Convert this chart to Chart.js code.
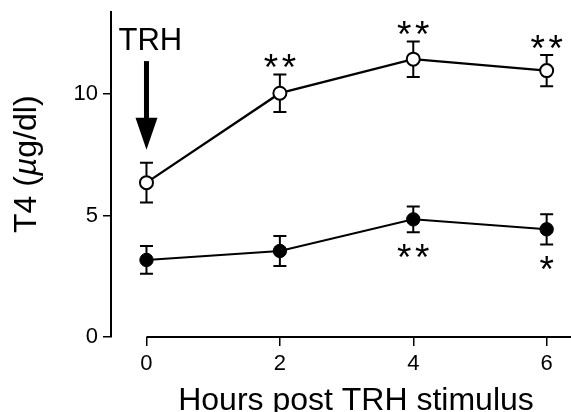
<!DOCTYPE html>
<html>
<head>
<meta charset="utf-8">
<script src="https://cdn.jsdelivr.net/npm/chart.js@4"></script>
<style>
  html, body { margin: 0; padding: 0; background: #fff; }
  #wrap { width: 571px; height: 412px; }
</style>
</head>
<body>
<div id="wrap"><canvas id="chart" width="571" height="412"></canvas></div>
<script>
// values
const hours = [0, 2, 4, 6];
const xTicks = [0, 2, 4, 6];
const yTicks = [0, 5, 10];
const openMean = [6.35, 10.03, 11.43, 10.96];
const openSem = [0.82, 0.77, 0.73, 0.64];
const filledMean = [3.17, 3.54, 4.84, 4.43];
const filledSem = [0.57, 0.62, 0.53, 0.62];
const openSig = ["", "**", "**", "**"];
const filledSig = ["", "", "**", "*"];

const FONT = "'Liberation Sans', Arial, Helvetica, sans-serif";

const toPoints = (means) => hours.map((h, i) => ({ x: h, y: means[i] }));

// error bars, significance stars, TRH arrow and axis titles
const extras = {
  id: "extras",
  beforeDatasetsDraw(chart) {
    const { ctx, scales: { x, y } } = chart;
    ctx.save();
    ctx.strokeStyle = "#000";
    ctx.lineWidth = 2;
    [[openMean, openSem], [filledMean, filledSem]].forEach(([m, s]) => {
      hours.forEach((h, i) => {
        const px = x.getPixelForValue(h);
        const top = y.getPixelForValue(m[i] + s[i]);
        const bot = y.getPixelForValue(m[i] - s[i]);
        ctx.beginPath();
        ctx.moveTo(px, top); ctx.lineTo(px, bot);
        ctx.moveTo(px - 6.5, top); ctx.lineTo(px + 6.5, top);
        ctx.moveTo(px - 6.5, bot); ctx.lineTo(px + 6.5, bot);
        ctx.stroke();
      });
    });
    ctx.restore();
  },
  afterDraw(chart) {
    const { ctx, chartArea, scales: { x, y } } = chart;
    ctx.save();
    ctx.fillStyle = "#000";
    ctx.strokeStyle = "#000";

    // x axis line starts at hour 0
    const y0 = y.getPixelForValue(0);
    ctx.lineWidth = 2;
    ctx.beginPath();
    ctx.moveTo(x.getPixelForValue(0), y0);
    ctx.lineTo(chartArea.right, y0);
    ctx.stroke();

    // stars
    ctx.font = "37px " + FONT;
    ctx.textAlign = "center";
    ctx.textBaseline = "alphabetic";
    const mt = ctx.measureText("*");
    const half = (mt.actualBoundingBoxAscent - mt.actualBoundingBoxDescent) / 2;
    const drawStars = (label, px, cy) => {
      const n = label.length;
      for (let k = 0; k < n; k++) {
        ctx.fillText("*", px + (k - (n - 1) / 2) * 18, cy + half);
      }
    };
    hours.forEach((h, i) => {
      const px = x.getPixelForValue(h);
      if (openSig[i]) drawStars(openSig[i], px, y.getPixelForValue(openMean[i] + openSem[i]) - 13.5);
      if (filledSig[i]) drawStars(filledSig[i], px, y.getPixelForValue(filledMean[i] - filledSem[i]) + 19);
    });

    // TRH arrow
    const ax = x.getPixelForValue(0);
    const tail = y.getPixelForValue(11.35);
    const tip = y.getPixelForValue(7.7);
    ctx.fillRect(ax - 2.5, tail, 5, tip - tail - 30);
    ctx.beginPath();
    ctx.moveTo(ax - 11, tip - 32);
    ctx.lineTo(ax + 11, tip - 32);
    ctx.lineTo(ax, tip);
    ctx.closePath();
    ctx.fill();
    ctx.font = "31px " + FONT;
    ctx.textAlign = "left";
    ctx.fillText("TRH", ax - 28, y.getPixelForValue(11.81));

    // x title
    ctx.font = "32px " + FONT;
    ctx.textAlign = "center";
    ctx.fillText("Hours post TRH stimulus", 356, 410);

    // y title, rotated, with italic mu
    ctx.translate(36, 233);
    ctx.rotate(-Math.PI / 2);
    ctx.textAlign = "left";
    const parts = [["T4 (", "32px " + FONT], ["\u00b5", "italic 32px " + FONT], ["g/dl)", "32px " + FONT]];
    let cx = 0;
    parts.forEach(([t, f]) => {
      ctx.font = f;
      ctx.fillText(t, cx, 0);
      cx += ctx.measureText(t).width;
    });
    ctx.restore();
  }
};

new Chart(document.getElementById("chart"), {
  type: "line",
  data: {
    datasets: [
      {
        label: "open",
        data: toPoints(openMean),
        borderColor: "#000",
        borderWidth: 2.3,
        pointRadius: 6.5,
        pointBorderWidth: 2,
        pointBackgroundColor: "#fff",
        pointBorderColor: "#000",
        tension: 0,
      },
      {
        label: "filled",
        data: toPoints(filledMean),
        borderColor: "#000",
        borderWidth: 2,
        pointRadius: 6.7,
        pointBorderWidth: 1,
        pointBackgroundColor: "#000",
        pointBorderColor: "#000",
        tension: 0,
      },
    ],
  },
  options: {
    responsive: false,
    animation: false,
    layout: { autoPadding: false, padding: { top: 12, left: 0, right: 0, bottom: 0 } },
    plugins: { legend: { display: false }, tooltip: { enabled: false } },
    scales: {
      x: {
        type: "linear",
        min: -0.532,
        max: 6.365,
        afterBuildTicks: (s) => { s.ticks = xTicks.map((v) => ({ value: v })); },
        afterFit: (s) => { s.height = 75; s.paddingLeft = 0; s.paddingRight = 0; },
        border: { display: false },
        grid: { drawOnChartArea: false, drawTicks: true, tickLength: 9, color: "#000", lineWidth: 1.5 },
        ticks: { color: "#000", font: { family: FONT, size: 22 }, padding: 5, maxRotation: 0 },
      },
      y: {
        min: 0,
        max: 13.37,
        afterBuildTicks: (s) => { s.ticks = yTicks.map((v) => ({ value: v })); },
        afterFit: (s) => { s.width = 111; s.paddingTop = 0; s.paddingBottom = 0; },
        border: { display: true, color: "#000", width: 2 },
        grid: { drawOnChartArea: false, drawTicks: true, tickLength: 8, color: "#000", lineWidth: 1.5 },
        ticks: { color: "#000", font: { family: FONT, size: 22 }, padding: 5 },
      },
    },
  },
  plugins: [extras],
});
</script>
</body>
</html>
